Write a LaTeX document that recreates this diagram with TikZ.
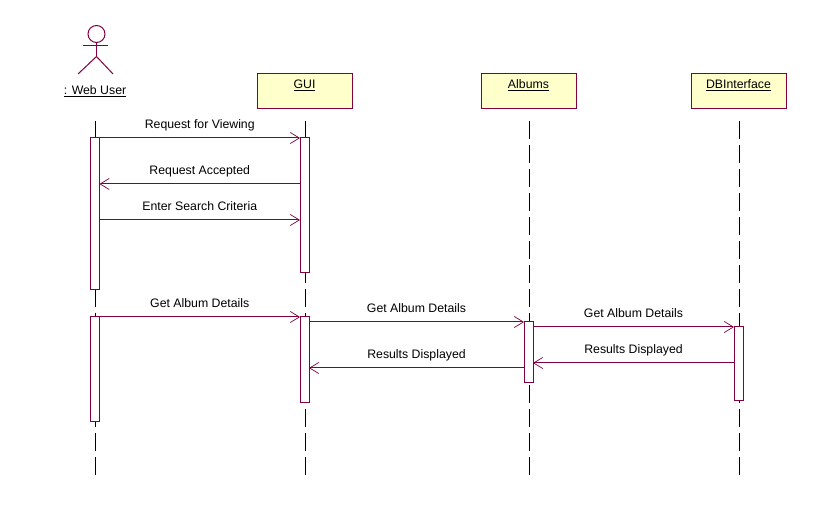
\documentclass[tikz,border=0pt]{standalone}
\usepackage{fontspec}
\setmainfont{Liberation Sans}
\usetikzlibrary{arrows.meta}
\usetikzlibrary{calc,positioning}
\definecolor{umlLine}{RGB}{128,0,64}
\definecolor{umlFill}{RGB}{255,255,204}

\begin{document}
\begin{tikzpicture}[x=1pt,y=-1pt,font=\fontsize{12.3}{14}\selectfont]
    \tikzstyle{object}=[draw=umlLine,fill=umlFill,line width=1pt,outer sep=0pt,inner sep=0pt,minimum width=95pt,minimum height=35pt,text height=11.5pt,text depth=16.5pt]
    \tikzstyle{activation}=[draw=umlLine,fill=white,line width=1pt,outer sep=0pt,inner sep=0pt,minimum width=9pt,anchor=north]
    \tikzstyle{lifeline}=[line width=1pt,dash pattern=on 18pt off 6pt]
    \tikzstyle{message}=[draw=umlLine,line width=1pt,-{Straight Barb[length=9pt,width=11pt,line width=0.7pt]}]
    \tikzstyle{actor}=[draw=umlLine,line width=1pt]
    \tikzstyle{msgLabel}=[midway,above,inner sep=0pt,yshift=6.5pt,text height=9pt,text depth=2.5pt]

    \useasboundingbox (0,-1) rectangle (825,517);

    % Actor
    \node[draw=umlLine,line width=1pt,circle,inner sep=0pt,minimum size=17pt] (head) at (96.5,33) {};
    \coordinate (hip) at (96.5,55.5);
    \coordinate (armL) at (83,44.5);
    \coordinate (armR) at (108,44.5);
    \coordinate (legL) at (78,73);
    \coordinate (legR) at (113,73);
    \draw[actor] (head.south) -- (hip);
    \draw[actor] (armL) -- (armR);
    \draw[actor] (legL) -- (hip) -- (legR);
    \node (webUser) at (95,90) {\underline{: Web User}};

    % Objects
    \node[object] (gui) at (304.5,90.5) {\underline{GUI}};
    \node[object] (albums) at (528.5,90.5) {\underline{Albums}};
    \node[object] (db) at (738.5,90.5) {\underline{DBInterface}};

    % Lifelines
    \coordinate (userTop) at (95.5,120);
    \coordinate (userEnd) at (95.5,474);
    \draw[lifeline] (userTop) -- (userEnd);
    \draw[lifeline] (gui.south -| 305.5,0) ++(0,12) coordinate (guiTop) -- (305.5,474) coordinate (guiEnd);
    \draw[lifeline] (albums.south -| 529.5,0) ++(0,12) coordinate (albumsTop) -- (529.5,474) coordinate (albumsEnd);
    \draw[lifeline] (db.south -| 739.5,0) ++(0,12) coordinate (dbTop) -- (739.5,474) coordinate (dbEnd);

    % Activations
    \node[activation,minimum height=152pt] (U1) at (95,137) {};
    \node[activation,minimum height=105pt] (U2) at (95,316) {};
    \node[activation,minimum height=135pt] (G1) at (304.5,137) {};
    \node[activation,minimum height=86pt] (G2) at (304.5,316) {};
    \node[activation,minimum height=61pt] (A1) at (528.5,321) {};
    \node[activation,minimum height=74pt] (D1) at (738.5,326) {};

    % Messages
    \draw[message] (U1.north east) -- (G1.north west) node[msgLabel] {Request for Viewing};
    \draw[message] ($(G1.north west)+(0,46)$) -- ($(U1.north east)+(0,46)$) node[msgLabel] {Request Accepted};
    \draw[message] ($(U1.north east)+(0,82)$) -- ($(G1.north west)+(0,82)$) node[msgLabel] {Enter Search Criteria};
    \draw[message] (U2.north east) -- (G2.north west) node[msgLabel] {Get Album Details};
    \draw[message] ($(G2.north east)+(0,5)$) -- (A1.north west) node[msgLabel] {Get Album Details};
    \draw[message] ($(A1.north east)+(0,5)$) -- (D1.north west) node[msgLabel] {Get Album Details};
    \draw[message] ($(D1.north west)+(0,36)$) -- ($(A1.north east)+(0,41)$) node[msgLabel] {Results Displayed};
    \draw[message] ($(A1.north west)+(0,46)$) -- ($(G2.north east)+(0,51)$) node[msgLabel] {Results Displayed};
\end{tikzpicture}
\end{document}
